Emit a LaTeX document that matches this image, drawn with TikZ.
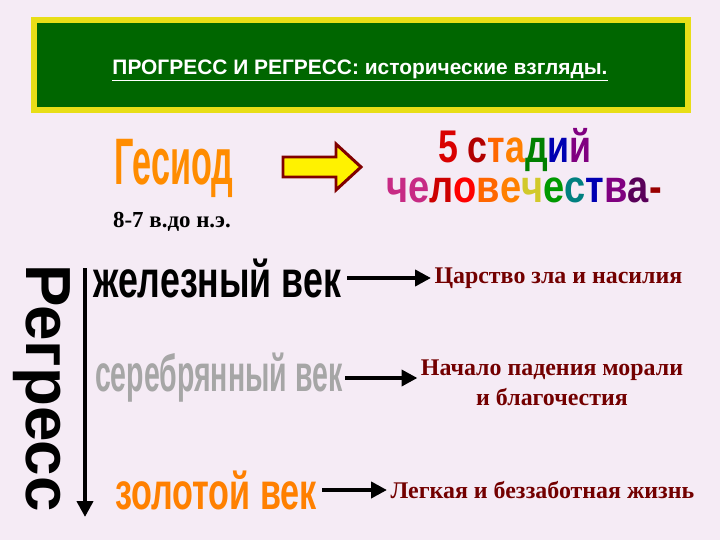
\documentclass[tikz,border=0pt]{standalone}
\usepackage{fontspec}
\usetikzlibrary{arrows.meta}
\setmainfont{Liberation Serif}
\newfontfamily\ls{Liberation Sans}
\begin{document}
\begin{tikzpicture}[x=1bp,y=-1bp,
  wa/.style={font=\ls\bfseries\fontsize{52}{52}\selectfont,inner sep=0},
  rt/.style={font=\bfseries\fontsize{24}{30}\selectfont,text=red!45!black,align=center},
  ar/.style={line width=4.5pt,-{Triangle[length=16pt,width=16pt]}}]
\useasboundingbox (0,0) rectangle (720,540);
\fill[violet!8!white] (0,0) rectangle (720,540);
\draw[line width=6pt,draw=yellow!90!black,fill=green!40!black] (34,20) rectangle (688,110);
\node[text=white,font=\ls\bfseries\fontsize{21}{24}\selectfont] (title) at (360,70) {\underline{ПРОГРЕСС И РЕГРЕСС: исторические взгляды.}};
\node[wa,text=orange!90!yellow,font=\ls\bfseries\fontsize{66}{66}\selectfont,xscale=0.52] (ges) at (174,168) {Гесиод};
\node[font=\bfseries\fontsize{23}{26}\selectfont] (date) at (172,222) {8-7 в.до н.э.};
\draw[line width=3pt,draw=red!50!black,fill=yellow] (283,157) -- (336,157) -- (336,144) -- (361,167) -- (336,190) -- (336,177) -- (283,177) -- cycle;
\node[wa,font=\ls\bfseries\fontsize{46}{46}\selectfont,xscale=0.78] (st) at (515,150) {\textcolor{red!85!black}{5} \textcolor{red!70!black}{с}\textcolor{orange!80!red}{т}\textcolor{orange}{а}\textcolor{green!50!black}{д}\textcolor{blue!70!black}{и}\textcolor{violet}{й}};
\node[wa,font=\ls\bfseries\fontsize{46}{46}\selectfont,xscale=0.83] (ch) at (524,190) {\textcolor{magenta!80!black}{ч}\textcolor{magenta!80!black}{е}\textcolor{red!80!black}{л}\textcolor{red}{о}\textcolor{orange!80!red}{в}\textcolor{orange}{е}\textcolor{yellow!80!black}{ч}\textcolor{green!60!black}{е}\textcolor{teal}{с}\textcolor{blue!70!black}{т}\textcolor{violet}{в}\textcolor{violet!70!black}{а}\textcolor{red!60!black}{-}};
\node[font=\ls\bfseries\fontsize{64}{64}\selectfont,rotate=-90,inner sep=0] (reg) at (42,388) {Регресс};
\coordinate (vtop) at (85,268);
\coordinate (vbot) at (85,517);
\draw[ar] (vtop) -- (vbot);
\node[wa,anchor=west,xscale=0.69] (iron) at (93,278) {железный век};
\node[wa,anchor=west,text=gray!70,xscale=0.55] (silv) at (95,378) {серебрянный век};
\node[wa,anchor=west,text=orange,xscale=0.66] (gold) at (115,490) {золотой век};
\node[rt,anchor=west] (t1) at (431,278) {Царство зла и насилия};
\node[rt] (t2) at (552,383) {Начало падения морали\\и благочестия};
\node[rt,anchor=west] (t3) at (387,490) {Легкая и беззаботная жизнь};
\draw[ar] ([xshift=6bp]iron.east) -- (iron.east -| t1.west);
\draw[ar] ([xshift=3bp]silv.east) -- (silv.east -| t2.west);
\draw[ar] ([xshift=5bp]gold.east) -- (gold.east -| t3.west);
\end{tikzpicture}
\end{document}
